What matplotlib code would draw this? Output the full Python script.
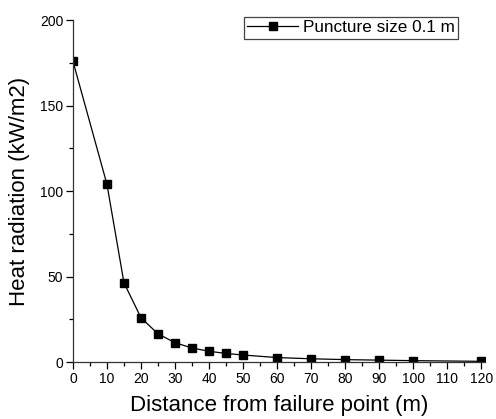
import matplotlib
matplotlib.use("Agg")
import matplotlib.pyplot as plt
from matplotlib.ticker import MultipleLocator

plt.rcParams['font.family'] = ['Liberation Sans', 'DejaVu Sans']

distance = [0, 10, 15, 20, 25, 30, 35, 40, 45, 50, 60, 70, 80, 90, 100, 120]
radiation = [176, 104, 46.4, 25.9, 16.5, 11.3, 8.2, 6.3, 5.0, 4.1, 2.6, 1.9, 1.4, 1.1, 0.8, 0.4]
series_label = "Puncture size 0.1 m"

fig = plt.figure(figsize=(4.96, 4.19), dpi=100)
ax = fig.add_axes([0.147, 0.136, 0.83, 0.816])

ax.plot(distance, radiation, color="black", linewidth=0.9, marker="s",
        markersize=5.2, label=series_label)

ax.set_xlim(0, 121)
ax.set_ylim(0, 200)
ax.xaxis.set_major_locator(MultipleLocator(10))
ax.xaxis.set_minor_locator(MultipleLocator(5))
ax.yaxis.set_major_locator(MultipleLocator(50))
ax.yaxis.set_minor_locator(MultipleLocator(25))

for side in ("top", "right"):
    ax.spines[side].set_visible(False)
for side in ("left", "bottom"):
    ax.spines[side].set_linewidth(0.9)
    ax.spines[side].set_color("#333333")

ax.tick_params(which="major", direction="out", length=5, width=0.9, labelsize=10, pad=2)
ax.tick_params(which="minor", direction="out", length=3, width=0.9)

ax.set_xlabel("Distance from failure point (m)", fontsize=16, labelpad=6.5)
ax.set_ylabel("Heat radiation (kW/m2)", fontsize=16, labelpad=7)

leg = ax.legend(loc="upper right", bbox_to_anchor=(0.935, 1.01), fontsize=12.3,
                fancybox=False, framealpha=1, handlelength=3.0,
                borderpad=0.2, handletextpad=0.25, borderaxespad=0.0)
leg.get_frame().set_edgecolor("#444444")
leg.get_frame().set_linewidth(0.9)

fig.savefig("out.png", dpi=100)
